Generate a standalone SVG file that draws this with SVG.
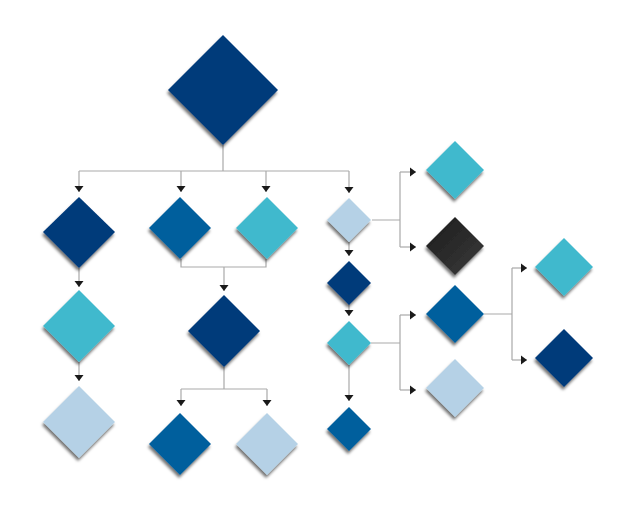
<svg xmlns="http://www.w3.org/2000/svg" width="626" height="515" viewBox="0 0 626 515">
<defs>
<style>
.c{fill:none;stroke:#a9a9a9;stroke-width:1.2}
.navy{fill:#003a7a}
.med{fill:#065f9d}
.teal{fill:#40b9cd}
.light{fill:#b5d1e6}
.blk{fill:url(#gBlk)}
.d{filter:url(#sh)}
</style>
<linearGradient id="gBlk" x1="0" y1="0" x2="1" y2="1">
<stop offset="0" stop-color="#1c1c1c"/>
<stop offset="1" stop-color="#3a3a3a"/>
</linearGradient>
<filter id="sh" x="-30%" y="-30%" width="160%" height="170%">
<feDropShadow dx="-1" dy="3" stdDeviation="1.6" flood-color="#000" flood-opacity="0.55"/>
</filter>
<marker id="ar" viewBox="0 0 8 10" refX="6" refY="5" markerWidth="8" markerHeight="10" markerUnits="userSpaceOnUse" orient="auto">
<path d="M0,0.5 L6,5 L0,9.5 z" fill="#1a1a1a"/>
</marker>
</defs>
<rect width="626" height="515" fill="#ffffff"/>
<g id="connectors" class="c">
<path d="M223,145 V171 M79,171 H349"/>
<path d="M79,171 V192" marker-end="url(#ar)"/>
<path d="M181,171 V192" marker-end="url(#ar)"/>
<path d="M266,171 V192" marker-end="url(#ar)"/>
<path d="M349,171 V193" marker-end="url(#ar)"/>
<path d="M79,268 V287" marker-end="url(#ar)"/>
<path d="M79,362 V381" marker-end="url(#ar)"/>
<path d="M181,259 V267 H266 V259"/>
<path d="M224,267 V291" marker-end="url(#ar)"/>
<path d="M224,367 V389 M181,389 H267"/>
<path d="M181,389 V406" marker-end="url(#ar)"/>
<path d="M267,389 V406" marker-end="url(#ar)"/>
<path d="M349,242 V256" marker-end="url(#ar)"/>
<path d="M349,304 V316" marker-end="url(#ar)"/>
<path d="M349,365 V401" marker-end="url(#ar)"/>
<path d="M372,220 H400 M400,172 V247"/>
<path d="M400,172 H416" marker-end="url(#ar)"/>
<path d="M400,247 H416" marker-end="url(#ar)"/>
<path d="M371,343 H400 M400,315 V390"/>
<path d="M400,315 H416" marker-end="url(#ar)"/>
<path d="M400,390 H416" marker-end="url(#ar)"/>
<path d="M484,314 H512 M512,268 V360"/>
<path d="M512,268 H527" marker-end="url(#ar)"/>
<path d="M512,360 H527" marker-end="url(#ar)"/>
</g>
<g id="n-root" class="d"><polygon class="navy" points="223,35 278,90 223,145 168,90"/></g>
<g id="n-a1" class="d"><polygon class="navy" points="79,197 115,232 79,268 43,232"/></g>
<g id="n-a2" class="d"><polygon class="med" points="180,197 211,228 180,259 149,228"/></g>
<g id="n-a3" class="d"><polygon class="teal" points="267,197 298,228 267,259 236,228"/></g>
<g id="n-a4" class="d"><polygon class="light" points="349,198 371,220 349,242 327,220"/></g>
<g id="n-b1" class="d"><polygon class="teal" points="79,290 115,326 79,362 43,326"/></g>
<g id="n-c1" class="d"><polygon class="light" points="79,386 115,422 79,458 43,422"/></g>
<g id="n-b2" class="d"><polygon class="navy" points="224,295 260,331 224,367 188,331"/></g>
<g id="n-c2" class="d"><polygon class="med" points="180,413 211,444 180,475 149,444"/></g>
<g id="n-c3" class="d"><polygon class="light" points="267,413 298,444 267,475 236,444"/></g>
<g id="n-b4" class="d"><polygon class="navy" points="349,261 371,283 349,305 327,283"/></g>
<g id="n-b5" class="d"><polygon class="teal" points="349,321 371,343 349,365 327,343"/></g>
<g id="n-b6" class="d"><polygon class="med" points="349,407 371,429 349,451 327,429"/></g>
<g id="n-r1" class="d"><polygon class="teal" points="455,141 484,170 455,199 426,170"/></g>
<g id="n-r2" class="d"><polygon class="blk" points="455,217 484,246 455,275 426,246"/></g>
<g id="n-r3" class="d"><polygon class="med" points="455,285 484,314 455,343 426,314"/></g>
<g id="n-r4" class="d"><polygon class="light" points="455,359 484,388 455,417 426,388"/></g>
<g id="n-s1" class="d"><polygon class="teal" points="564,238 593,267 564,296 535,267"/></g>
<g id="n-s2" class="d"><polygon class="navy" points="564,329 593,358 564,387 535,358"/></g>
</svg>
